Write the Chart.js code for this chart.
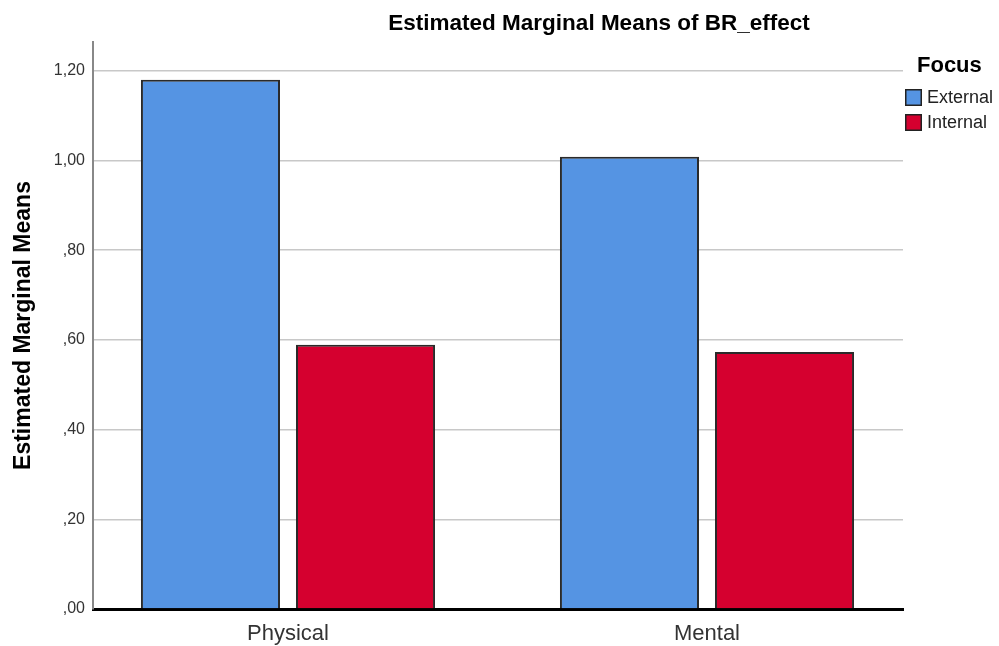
<!DOCTYPE html>
<html lang="en">
<head>
    <meta charset="UTF-8">
    <title>Estimated Marginal Means of BR_effect</title>
    <script src="https://cdn.jsdelivr.net/npm/chart.js"></script>
    <style>
        html, body { margin: 0; padding: 0; background: #fff; }
        #wrap { width: 999px; height: 646px; position: relative; }
    </style>
</head>
<body>
    <div id="wrap"><canvas id="emmChart" width="999" height="646"></canvas></div>

    <script>
        // data
        const categories = ['Physical', 'Mental'];
        const seriesNames = ['External', 'Internal'];
        const externalMeans = [1.18, 1.008];
        const internalMeans = [0.589, 0.573];
        const seriesColors = ['#5594E3', '#D5002F'];
        const yTicks = [0, 0.2, 0.4, 0.6, 0.8, 1.0, 1.2];

        const FONT = '"Liberation Sans", Arial, sans-serif';

        // title and "Focus" legend drawn by hand, SPSS places them off-centre
        const extrasPlugin = {
            id: 'extras',
            afterDraw(chart) {
                const ctx = chart.ctx;
                ctx.save();
                ctx.fillStyle = '#000';
                ctx.font = 'bold 22.5px ' + FONT;
                ctx.textAlign = 'center';
                ctx.textBaseline = 'middle';
                ctx.fillText('Estimated Marginal Means of BR_effect', 599, 24);

                ctx.textAlign = 'left';
                ctx.font = 'bold 22px ' + FONT;
                ctx.fillText('Focus', 917, 66);

                ctx.font = '18px ' + FONT;
                seriesNames.forEach((name, i) => {
                    const y = 89 + i * 25;
                    ctx.fillStyle = seriesColors[i];
                    ctx.fillRect(905, y, 17, 17);
                    ctx.strokeStyle = '#222';
                    ctx.lineWidth = 1.5;
                    ctx.strokeRect(905.75, y + 0.75, 15.5, 15.5);
                    ctx.fillStyle = '#222';
                    ctx.fillText(name, 927, y + 9);
                });
                ctx.restore();
            }
        };

        new Chart(document.getElementById('emmChart'), {
            type: 'bar',
            data: {
                labels: categories,
                datasets: [
                    {
                        label: seriesNames[0],
                        data: externalMeans,
                        backgroundColor: seriesColors[0],
                        borderColor: '#2a2a2a',
                        borderWidth: 2
                    },
                    {
                        label: seriesNames[1],
                        data: internalMeans,
                        backgroundColor: seriesColors[1],
                        borderColor: '#2a2a2a',
                        borderWidth: 2
                    }
                ]
            },
            options: {
                responsive: false,
                animation: false,
                categoryPercentage: 0.74,
                barPercentage: 0.897,
                layout: { padding: { top: 42, right: 96, left: 0, bottom: 0 } },
                plugins: {
                    legend: { display: false },
                    tooltip: { enabled: false }
                },
                scales: {
                    x: {
                        grid: { display: false },
                        border: { color: '#000', width: 3 },
                        ticks: {
                            color: '#333',
                            font: { family: FONT, size: 22 },
                            padding: 4
                        },
                        // SPSS spaces the two groups a little wider than half the axis
                        afterBuildTicks(scale) {
                            scale._startValue = -0.4654;
                            scale._valueRange = 1.9332;
                        },
                        afterFit(scale) { scale.height = 37; }
                    },
                    y: {
                        min: 0,
                        max: 1.264,
                        afterBuildTicks(scale) {
                            scale.ticks = yTicks.map(v => ({ value: v }));
                        },
                        grid: { color: '#c8c8c8', lineWidth: 1.5, drawTicks: false },
                        border: { color: '#888', width: 2 },
                        ticks: {
                            color: '#333',
                            padding: 8,
                            font: { family: FONT, size: 16 },
                            callback: v => v.toFixed(2).replace(/^0/, '').replace('.', ',')
                        },
                        title: {
                            display: true,
                            text: 'Estimated Marginal Means',
                            color: '#000',
                            font: { family: FONT, size: 23, weight: 'bold' },
                            padding: { top: 10, bottom: 0 }
                        },
                        afterFit(scale) { scale.width = 93; }
                    }
                }
            },
            plugins: [extrasPlugin]
        });
    </script>
</body>
</html>
